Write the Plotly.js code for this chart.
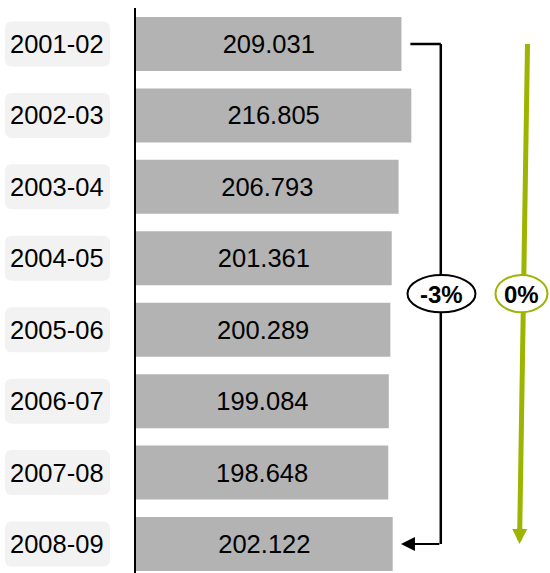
<!DOCTYPE html>
<html>
<head>
<meta charset="utf-8">
<script src="https://cdn.plot.ly/plotly-3.0.1.min.js"></script>
<style>html,body{margin:0;padding:0;background:#fff;}#chart{width:550px;height:573px;}</style>
</head>
<body>
<div id="chart"></div>
<script>
const categories = ["2001-02","2002-03","2003-04","2004-05","2005-06","2006-07","2007-08","2008-09"];
const values = [209.031, 216.805, 206.793, 201.361, 200.289, 199.084, 198.648, 202.122];
const changeTotalLabel = "-3%";
const changeTrendLabel = "0%";

const FONT = "Arial, 'Liberation Sans', sans-serif";
const GREEN = "#9db400";
const n = categories.length;
const last = n - 1;
const midIdx = (n - 1) / 2;

const trace = {
  type: "bar",
  orientation: "h",
  y: categories.map((c, i) => i),
  x: values,
  marker: {color: "#b3b3b3"},
  text: values.map(v => v.toFixed(3)),
  textposition: "inside",
  insidetextanchor: "middle",
  textfont: {family: FONT, size: 25.5, color: "#000"},
  hoverinfo: "skip",
  cliponaxis: false
};

const bracketX = 240;
const trendTop = 308.3, trendBot = 302.0;

const annotations = categories.map((c, i) => ({
  xref: "paper", yref: "y", x: -0.19, y: i,
  text: c, showarrow: false,
  font: {family: FONT, size: 25.5, color: "#000"},
  xanchor: "center", yanchor: "middle"
}));

// bracket arrow at bottom
annotations.push({
  xref: "x", yref: "y", axref: "x", ayref: "y",
  x: values[last] + 6.5, y: last, ax: bracketX, ay: last,
  showarrow: true, arrowhead: 2, arrowsize: 1.4, arrowwidth: 2, arrowcolor: "#000", text: ""
});
// green trend arrowhead (shaft drawn as shape)
const headFrac = 0.035;
annotations.push({
  xref: "x", yref: "y", axref: "x", ayref: "y",
  x: trendBot, y: last,
  ax: trendBot + (trendTop - trendBot) * headFrac, ay: last - last * headFrac,
  showarrow: true, arrowhead: 2, arrowsize: 0.6, arrowwidth: 5, arrowcolor: GREEN, text: ""
});
annotations.push({
  xref: "x", yref: "y", x: bracketX + 0.5, y: midIdx, text: "<b>" + changeTotalLabel + "</b>",
  showarrow: false, font: {family: FONT, size: 24, color: "#000"}
});
annotations.push({
  xref: "x", yref: "y", x: 303.5, y: midIdx, text: "<b>" + changeTrendLabel + "</b>",
  showarrow: false, font: {family: FONT, size: 24, color: "#000"}
});

// rounded label boxes behind category names
const bx0 = -0.3164, bx1 = -0.0628, bh = 0.315, rx = 0.0169, ry = 0.098;
const labelBoxes = categories.map((c, i) => {
  const y0 = i - bh, y1 = i + bh;
  const p = `M ${bx0 + rx},${y0} L ${bx1 - rx},${y0} Q ${bx1},${y0} ${bx1},${y0 + ry} ` +
            `L ${bx1},${y1 - ry} Q ${bx1},${y1} ${bx1 - rx},${y1} L ${bx0 + rx},${y1} ` +
            `Q ${bx0},${y1} ${bx0},${y1 - ry} L ${bx0},${y0 + ry} Q ${bx0},${y0} ${bx0 + rx},${y0} Z`;
  return {type: "path", xref: "paper", yref: "y", path: p, fillcolor: "#f2f2f2", line: {width: 0}, layer: "below"};
});

const shapes = labelBoxes.concat([
  {type: "line", xref: "x", yref: "y", x0: values[0] + 7, x1: bracketX, y0: 0, y1: 0,
   line: {color: "#000", width: 2.5}, layer: "above"},
  {type: "line", xref: "x", yref: "y", x0: bracketX, x1: bracketX, y0: 0, y1: last,
   line: {color: "#000", width: 2.5}, layer: "above"},
  {type: "line", xref: "x", yref: "y", x0: trendTop, x1: trendBot + (trendTop - trendBot) * 0.015, y0: 0, y1: last - last * 0.015,
   line: {color: GREEN, width: 5}, layer: "above"},
  {type: "circle", xref: "x", yref: "y", x0: 213.8, x1: 267.3, y0: midIdx - 0.265, y1: midIdx + 0.255,
   line: {color: "#000", width: 2}, fillcolor: "#fff", layer: "above"},
  {type: "circle", xref: "x", yref: "y", x0: 283.1, x1: 324.0, y0: midIdx - 0.265, y1: midIdx + 0.255,
   line: {color: GREEN, width: 2}, fillcolor: "#fff", layer: "above"}
]);

const layout = {
  width: 550, height: 573,
  margin: {l: 136, r: 0, t: 8, b: 0, pad: 0},
  paper_bgcolor: "#fff", plot_bgcolor: "#fff",
  showlegend: false,
  bargap: 0.244,
  xaxis: {range: [0, 326], showgrid: false, zeroline: false, showticklabels: false, ticks: "", showline: false, fixedrange: true},
  yaxis: {range: [7.406, -0.504], showgrid: false, zeroline: false, showticklabels: false, ticks: "",
          showline: true, linecolor: "#000", linewidth: 2, mirror: false, fixedrange: true},
  annotations: annotations,
  shapes: shapes,
  font: {family: FONT}
};

Plotly.newPlot("chart", [trace], layout, {displayModeBar: false, staticPlot: true});
</script>
</body>
</html>
